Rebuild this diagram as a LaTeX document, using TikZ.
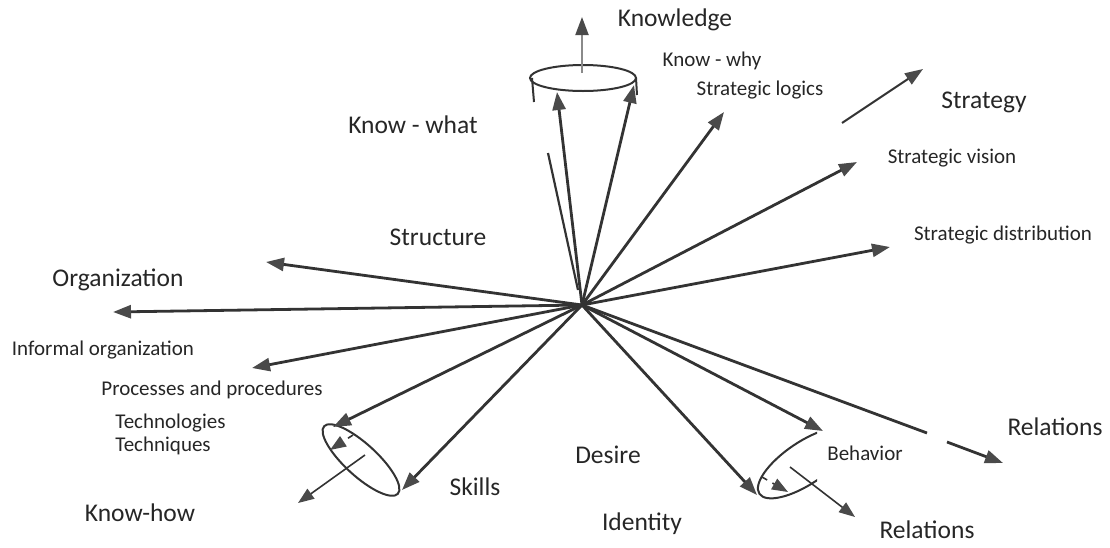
\documentclass[tikz,border=0pt]{standalone}
\usepackage{fontspec}
\setmainfont{Carlito}
\usetikzlibrary{arrows.meta}
\definecolor{inkgray}{HTML}{333333}
\definecolor{headgray}{HTML}{4a4a4a}
\definecolor{palegray}{HTML}{8a8a8a}
\tikzset{
    bigtext/.style={font=\fontsize{12.75pt}{14pt}\selectfont,inner sep=0pt,text=black!85},
    smalltext/.style={font=\fontsize{10.5pt}{12pt}\selectfont,inner sep=0pt,text=black!85},
    directed/.style={draw=inkgray,line width=1.4pt,arrows={-Triangle[length=9pt,width=6.5pt,color=headgray]}},
    thindirected/.style={draw=inkgray,line width=0.8pt,arrows={-Triangle[length=8pt,width=6pt,color=headgray]}},
    rim/.style={draw=inkgray,line width=1pt},
    }

\begin{document}
\begin{tikzpicture}[x=0.5pt,y=-0.5pt]
    \useasboundingbox (0,0) rectangle (1110,547);

		\coordinate (c) at (582,305);
		\coordinate (kl) at (557,92);
		\coordinate (kr) at (634,85);
		\coordinate (kw1) at (548,153);
		\coordinate (kw2) at (578,290);
		\coordinate (slog) at (724,112);
		\coordinate (svis) at (857,162);
		\coordinate (sdist) at (890,247);
		\coordinate (str) at (266,262);
		\coordinate (org) at (113,312);
		\coordinate (inf) at (252,368);
		\coordinate (proc) at (333,427);
		\coordinate (skl) at (402,490);
		\coordinate (des) at (757,495);
		\coordinate (beh) at (823,431);
		\coordinate (rl1) at (927,433);
		\coordinate (rl2) at (947,442);
		\coordinate (rl3) at (1003,463);
		\coordinate (st1) at (842,123);
		\coordinate (st2) at (923,69);
		\coordinate (kn1) at (582,73);
		\coordinate (kn2) at (582,17);
		\coordinate (kh1) at (365,455);
		\coordinate (kh2) at (298,503);
		\coordinate (dl1) at (353,435);
		\coordinate (dl2) at (330,450);
		\coordinate (dr1) at (762,477);
		\coordinate (dr2) at (788,492);
		\coordinate (rb1) at (790,467);
		\coordinate (rb2) at (855,517);

		\node[bigtext] (knowledge) at (675,20) {Knowledge};
		\node[smalltext] (knowwhy) at (712,61) {Know - why};
		\node[smalltext] (logics) at (760,90) {Strategic logics};
		\node[bigtext] (strategy) at (984,102) {Strategy};
		\node[bigtext] (knowwhat) at (413,125) {Know - what};
		\node[smalltext] (vision) at (952,158) {Strategic vision};
		\node[smalltext] (distrib) at (1003,235) {Strategic distribution};
		\node[bigtext] (structure) at (438,237) {Structure};
		\node[bigtext] (organization) at (118,280) {Organization};
		\node[smalltext] (informal) at (103,350) {Informal organization};
		\node[smalltext] (processes) at (212,390) {Processes and procedures};
		\node[smalltext,anchor=west] (technologies) at (115,423) {Technologies};
		\node[smalltext,anchor=west] (techniques) at (115,446) {Techniques};
		\node[bigtext] (desire) at (608,455) {Desire};
		\node[bigtext] (skills) at (475,487) {Skills};
		\node[bigtext] (knowhow) at (140,513) {Know-how};
		\node[bigtext] (identity) at (642,524) {Identity};
		\node[smalltext] (behavior) at (865,453) {Behavior};
		\node[bigtext] (relright) at (1055,427) {Relations};
		\node[bigtext] (relbottom) at (927,530) {Relations};

	\draw[rim] (583,78) ellipse [x radius=26.5pt,y radius=6.5pt];
	\draw[rim] (532,78) -- (534,102);
	\draw[rim] (636,78) -- (637,95);
	\draw[rim,rotate around={-42.5:(361,460)}] (361,460) ellipse [x radius=25pt,y radius=8pt];
	\begin{scope}
	\clip (700,400) rectangle (817,530);
	\draw[rim,rotate around={34:(805,463)}] (805,463) ellipse [x radius=27.5pt,y radius=10.5pt];
	\end{scope}

	\draw[directed] (c) to (kl);
	\draw[directed] (c) to (kr);
        \draw[inkgray,line width=1.1pt] (kw2) to (kw1);
        \draw[directed] (c) to (slog);
        \draw[directed] (c) to (svis);
        \draw[directed] (c) to (sdist);
        \draw[directed] (c) to (str);
        \draw[directed] (c) to (org);
        \draw[directed] (c) to (inf);
        \draw[directed] (c) to (proc);
        \draw[directed] (c) to (skl);
        \draw[directed] (c) to (des);
        \draw[directed] (c) to (beh);
        \draw[inkgray,line width=1.4pt] (c) to (rl1);
        \draw[directed] (rl2) to (rl3);
        \draw[directed,line width=1pt] (st1) to (st2);
        \draw[directed,draw=palegray,line width=1pt] (kn1) to (kn2);
        \draw[thindirected] (kh1) to (kh2);
        \draw[thindirected] (rb1) to (rb2);
        \draw[thindirected,dashed] (dl1) to (dl2);
        \draw[thindirected,dashed] (dr1) to (dr2);
    \end{tikzpicture}
\end{document}
